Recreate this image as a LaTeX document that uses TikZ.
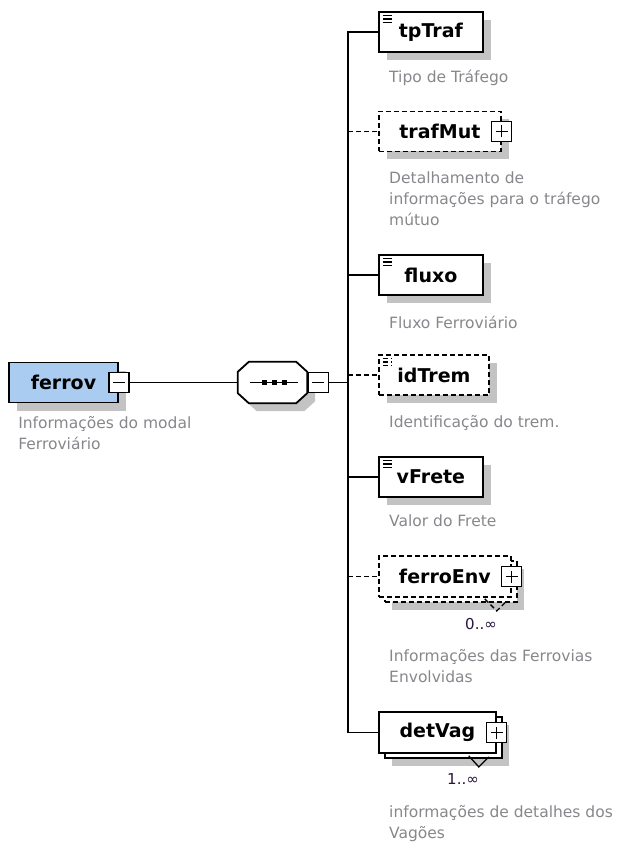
\documentclass[tikz,border=0pt]{standalone}
\usepackage{fontspec}
\setmainfont{DejaVu Sans}
\usetikzlibrary{positioning, shadows}
\definecolor{globalblue}{RGB}{170,204,240}
\definecolor{shadowgray}{RGB}{195,195,195}
\definecolor{notegray}{RGB}{135,135,140}
\definecolor{occdark}{RGB}{40,20,60}
\newcommand{\namefont}{\bfseries\fontsize{19}{22}\selectfont}
\newcommand{\notefont}{\fontsize{15.5}{21}\selectfont}

\begin{document}
\begin{tikzpicture}[
    x=1pt, y=-1pt,
    box/.style={rectangle, draw, line width=1.8pt, fill=white, minimum height=40pt, inner sep=0pt, font=\namefont},
    single/.style={box, general shadow={fill=shadowgray, shadow xshift=8pt, shadow yshift=-8pt}},
    multi/.style={box, general shadow={fill=shadowgray, shadow xshift=13pt, shadow yshift=-13pt},
        copy shadow={fill=white, draw, line width=1.6pt, shadow xshift=6pt, shadow yshift=-5pt, #1}},
    multi/.default={},
    optional/.style={dash pattern=on 5pt off 3pt},
    simple/.style={path picture={
        \foreach \k in {0,1,2}
            \draw[black, line width=1.1pt] ([xshift=4pt, yshift={-3.5pt-\k*3.5pt}]path picture bounding box.north west) -- ++(9,0);}},
    minus/.style={rectangle, draw, line width=1.3pt, fill=white, minimum size=20pt, inner sep=0pt,
        path picture={\draw[black, line width=1.3pt] ([xshift=4pt]path picture bounding box.west) -- ([xshift=-4pt]path picture bounding box.east);}},
    plus/.style={rectangle, draw, line width=1.3pt, fill=white, minimum size=20pt, inner sep=0pt,
        path picture={\draw[black, line width=1.3pt] ([xshift=4pt]path picture bounding box.west) -- ([xshift=-4pt]path picture bounding box.east)
            ([yshift=-4pt]path picture bounding box.north) -- ([yshift=4pt]path picture bounding box.south);}},
    seqframe/.style={draw, line width=1.8pt, fill=white, general shadow={fill=shadowgray, shadow xshift=8pt, shadow yshift=-8pt}},
    conn/.style={line width=1.8pt},
    note/.style={align=left, inner sep=0pt, font=\notefont, text=notegray},
    occ/.style={inner sep=0pt, font=\fontsize{15}{18}\selectfont, text=occdark}
]
\useasboundingbox (0,0) rectangle (625,845);

% Global element
\node[single, fill=globalblue, minimum width=109pt] (ferrov) at (63.5,382.5) {ferrov};
\node[minus] (ferrovMinus) at (ferrov.east) {};
\node[note, below right=13pt and 10pt of ferrov.south west] (ferrovNote) {Informações do modal\\Ferroviário};

% Sequence
\node[minimum width=69pt, minimum height=41pt, inner sep=0pt] (seq) at (272.5,382.5) {};
\path[seqframe] ([xshift=11pt]seq.north west) -- ([xshift=-11pt]seq.north east) -- ([yshift=-10pt]seq.north east)
    -- ([yshift=10pt]seq.south east) -- ([xshift=-11pt]seq.south east) -- ([xshift=11pt]seq.south west)
    -- ([yshift=10pt]seq.south west) -- ([yshift=-10pt]seq.north west) -- cycle;
\draw[line width=1.3pt] ([xshift=-23pt]seq.center) -- ([xshift=25pt]seq.center);
\foreach \dx in {-8,2,12}
    \fill[black] ([xshift=\dx pt]seq.center) +(-2.8,-2.8) rectangle +(2.8,2.8);
\node[minus, right=0.5pt of seq] (seqMinus) {};
\coordinate (rail) at (348,0);

% Children
\node[single, simple, minimum width=104pt, anchor=west] (tpTraf) at (378,32) {tpTraf};
\node[note, below right=17pt and 11pt of tpTraf.south west] (tpTrafNote) {Tipo de Tráfego};

\node[single, optional, minimum width=122pt, anchor=west] (trafMut) at (378,131.5) {trafMut};
\node[plus] (trafMutPlus) at (trafMut.east) {};
\node[note, below right=19pt and 11pt of trafMut.south west] (trafMutNote) {Detalhamento de\\informações para o tráfego\\mútuo};

\node[single, simple, minimum width=104pt, anchor=west] (fluxo) at (378,275) {fluxo};
\node[note, below right=20pt and 11pt of fluxo.south west] (fluxoNote) {Fluxo Ferroviário};

\node[single, simple, optional, minimum width=110pt, anchor=west] (idTrem) at (378,375) {idTrem};
\node[note, below right=19pt and 11pt of idTrem.south west] (idTremNote) {Identificação do trem.};

\node[single, simple, minimum width=104pt, anchor=west] (vFrete) at (378,477) {vFrete};
\node[note, below right=17pt and 11pt of vFrete.south west] (vFreteNote) {Valor do Frete};

\node[multi=optional, optional, minimum width=132pt, minimum height=41pt, anchor=west] (ferroEnv) at (378,576.5) {ferroEnv};
\node[plus] (ferroEnvPlus) at (ferroEnv.east) {};
\node[occ] (ferroEnvOcc) at (481,624) {0..∞};
\node[note, below right=51pt and 11pt of ferroEnv.south west] (ferroEnvNote) {Informações das Ferrovias\\Envolvidas};

\node[multi, minimum width=117pt, minimum height=41pt, anchor=west] (detVag) at (378,732.5) {detVag};
\node[plus] (detVagPlus) at (detVag.east) {};
\node[occ] (detVagOcc) at (463,779) {1..∞};
\node[note, below right=51pt and 11pt of detVag.south west] (detVagNote) {informações de detalhes dos\\Vagões};

% Notches
\draw[line width=1.3pt, optional] ([xshift=-27pt, yshift=-1pt]ferroEnv.south east) -- ++(12,12) -- ++(10,-10);
\draw[line width=1.3pt] ([xshift=-28pt, yshift=-2pt]detVag.south east) -- ++(10,11) -- ++(10,-10);

% Connectors
\draw[conn] (ferrovMinus.east) -- (seq.west);
\draw[conn] (seqMinus.east) -- (rail |- seqMinus.east);
\draw[conn] (tpTraf.west) -| (rail |- detVag.west) -- (detVag.west);
\draw[conn, optional] (rail |- trafMut.west) -- (trafMut.west);
\draw[conn] (rail |- fluxo.west) -- (fluxo.west);
\draw[conn, optional] (rail |- idTrem.west) -- (idTrem.west);
\draw[conn] (rail |- vFrete.west) -- (vFrete.west);
\draw[conn, optional] (rail |- ferroEnv.west) -- (ferroEnv.west);

\end{tikzpicture}
\end{document}
